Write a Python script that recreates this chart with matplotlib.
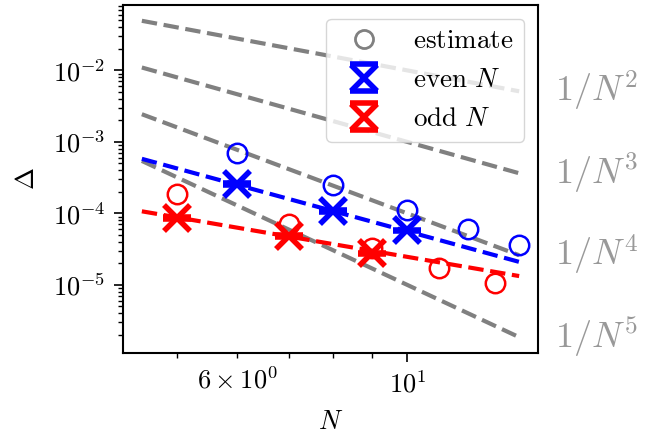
import matplotlib
matplotlib.use("Agg")
import matplotlib.pyplot as plt
import numpy as np
from matplotlib.lines import Line2D

# data
N_even = [6, 8, 10]
D_even = [2.6e-4, 1.09e-4, 5.77e-5]
err_even = [8e-6, 3e-6, 1.5e-6]
N_odd = [5, 7, 9]
D_odd = [8.65e-5, 4.8e-5, 2.76e-5]
err_odd = [2.5e-6, 1.4e-6, 0.8e-6]

N_est_even = [6, 8, 10, 12, 14]
est_even = [6.93e-4, 2.46e-4, 1.13e-4, 6.08e-5, 3.6e-5]
N_est_odd = [5, 7, 9, 11, 13]
est_odd = [1.87e-4, 7.2e-5, 3.31e-5, 1.75e-5, 1.06e-5]

N_fit = np.array([4.5, 14.0])
fit_even = [5.8e-4, 2.1e-5]
fit_odd = [1.07e-4, 1.33e-5]

powers = [2, 3, 4, 5]
label_x = 15.6
label_y = [5.1e-3, 3.64e-4, 2.6e-5, 1.86e-6]

plt.rcParams['mathtext.fontset'] = 'cm'
plt.rcParams['font.family'] = 'serif'
plt.rcParams['font.serif'] = ['cmr10', 'DejaVu Serif']
plt.rcParams['axes.formatter.use_mathtext'] = True

fig = plt.figure(figsize=(6.57, 4.33), dpi=100)
ax = fig.add_axes([0.1872, 0.1848, 0.6317, 0.8037])

for k in powers:
    ax.plot(N_fit, N_fit ** (-float(k)), '--', color='gray', lw=3)

ax.plot(N_fit, fit_even, '--', color='blue', lw=3)
ax.plot(N_fit, fit_odd, '--', color='red', lw=3)

ax.plot(N_est_even, est_even, 'o', mfc='none', mec='blue', ms=14, mew=1.8)
ax.plot(N_est_odd, est_odd, 'o', mfc='none', mec='red', ms=14, mew=1.8)

h_even = ax.errorbar(N_even, D_even, yerr=err_even, fmt='x', color='blue',
                     ms=19, mew=4, capsize=10, capthick=3.5, elinewidth=0)
h_odd = ax.errorbar(N_odd, D_odd, yerr=err_odd, fmt='x', color='red',
                    ms=19, mew=4, capsize=10, capthick=3.5, elinewidth=0)

for k, y in zip(powers, label_y):
    ax.text(label_x, y, r'$1/N^{%d}$' % k, fontsize=26, color='#999999',
            ha='left', va='center', clip_on=False)

ax.set_xscale('log')
ax.set_yscale('log')

h_est = Line2D([], [], ls='none', marker='o', mfc='none', mec='gray', ms=13, mew=2)
ax.legend([h_est, h_even, h_odd],
          [r'$\mathrm{estimate}$', r'$\mathrm{even}\ N$', r'$\mathrm{odd}\ N$'],
          loc='upper right', fontsize=19.5, labelspacing=0.55)

ax.set_xlabel(r'$N$', fontsize=19, labelpad=9)
ax.set_ylabel(r'$\Delta$', fontsize=19, labelpad=10)
ax.tick_params(which='both', labelsize=19, pad=6)
ax.tick_params(which='major', length=6.5, width=1.2)
ax.tick_params(which='minor', length=3.5, width=1.0)
for s in ax.spines.values():
    s.set_linewidth(1.5)

fig.savefig('out.png', dpi=100)
